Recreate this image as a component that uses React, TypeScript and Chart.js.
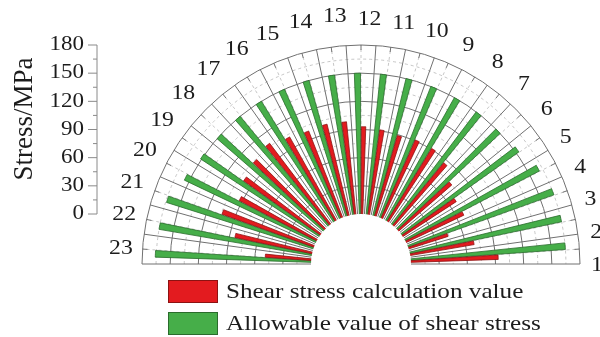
import React, { useEffect, useRef } from 'react';
import { Chart, registerables } from 'chart.js';

Chart.register(...registerables);

// ---------------- data ----------------
const CATEGORIES = ['1', '2', '3', '4', '5', '6', '7', '8', '9', '10', '11', '12', '13', '14', '15', '16', '17', '18', '19', '20', '21', '22', '23'];
const CALCULATED = [93, 69, 44, 68, 68, 75, 86, 91, 91, 89, 91, 93, 99, 100, 99, 102, 108, 104, 100, 93, 104, 84, 49];
const ALLOWABLE = [165, 165, 165, 161, 153, 150, 150, 150, 150, 150, 150, 150, 150, 150, 150, 150, 150, 150, 151, 155, 164, 165, 166];
const RADIAL_TICKS = [0, 30, 60, 90, 120, 150, 180];
const SERIES_NAMES = ['Shear stress calculation value', 'Allowable value of shear stress'];
const AXIS_TITLE = 'Stress/MPa';

// ---------------- style ----------------
const RED = '#e31b1f';
const RED_EDGE = '#8c1212';
const GREEN = '#46ae49';
const GREEN_EDGE = '#2a6c2c';
const NONE = 'rgba(0,0,0,0)';
const R_MAX = RADIAL_TICKS[RADIAL_TICKS.length - 1];
const OUTER_PX = 219;
const HOLE_PX = 50;
const R_MIN = -(R_MAX * HOLE_PX) / (OUTER_PX - HOLE_PX);
const SERIF = '"Liberation Serif", "Times New Roman", serif';
const TEXT = '#1c1c1c';

function stretchedText(
  ctx: CanvasRenderingContext2D,
  text: string,
  x: number,
  y: number,
  size: number,
  sx: number,
  align: CanvasTextAlign,
  rotate = 0
) {
  ctx.save();
  ctx.font = `${size}px ${SERIF}`;
  ctx.fillStyle = TEXT;
  ctx.textBaseline = 'middle';
  ctx.textAlign = align;
  ctx.translate(x, y);
  if (rotate) ctx.rotate(rotate);
  ctx.scale(sx, 1);
  ctx.fillText(text, 0, 0);
  ctx.restore();
}

export default function App() {
  const ref = useRef<HTMLCanvasElement>(null);

  useEffect(() => {
    if (!ref.current) return;
    const n = CATEGORIES.length;
    const slot = 180 / n;
    const barW = 1.85;
    const innerGap = 0.3;
    const outerGap = (slot - 2 * barW - innerGap) / 2;

    const values: number[] = [];
    const angles: number[] = [];
    const fills: string[] = [];
    const edges: string[] = [];
    const add = (v: number, a: number, f: string, e: string) => {
      values.push(v);
      angles.push(a);
      fills.push(f);
      edges.push(e);
    };
    // polar area runs clockwise on screen from the left: category 23 first
    for (let i = n - 1; i >= 0; i--) {
      add(0, outerGap, NONE, NONE);
      add(ALLOWABLE[i], barW, GREEN, GREEN_EDGE);
      add(0, innerGap, NONE, NONE);
      add(CALCULATED[i], barW, RED, RED_EDGE);
      add(0, outerGap, NONE, NONE);
    }
    add(0, 180, NONE, NONE); // lower (unused) half

    const deg = Math.PI / 180;

    const decor = {
      id: 'semiPolarDecor',
      beforeDatasetsDraw(chart: any) {
        const s = chart.scales.r;
        const ctx: CanvasRenderingContext2D = chart.ctx;
        const cx = s.xCenter;
        const cy = s.yCenter;
        const r0 = s.getDistanceFromCenterForValue(0);
        const r1 = s.getDistanceFromCenterForValue(R_MAX);
        ctx.save();
        // minor dashed rings
        ctx.strokeStyle = '#b8b8b8';
        ctx.lineWidth = 0.8;
        ctx.setLineDash([3, 3]);
        for (let i = 0; i < RADIAL_TICKS.length - 1; i++) {
          const r = s.getDistanceFromCenterForValue((RADIAL_TICKS[i] + RADIAL_TICKS[i + 1]) / 2);
          ctx.beginPath();
          ctx.arc(cx, cy, r, Math.PI, 2 * Math.PI);
          ctx.stroke();
        }
        // minor dashed spokes at slot centres
        for (let k = 0; k < n; k++) {
          const a = (k + 0.5) * slot * deg;
          ctx.beginPath();
          ctx.moveTo(cx + r0 * Math.cos(a), cy - r0 * Math.sin(a));
          ctx.lineTo(cx + r1 * Math.cos(a), cy - r1 * Math.sin(a));
          ctx.stroke();
        }
        ctx.setLineDash([]);
        // solid rings
        ctx.strokeStyle = '#707070';
        ctx.lineWidth = 1;
        RADIAL_TICKS.forEach((t) => {
          if (t === 0) return;
          const r = s.getDistanceFromCenterForValue(t);
          ctx.beginPath();
          ctx.arc(cx, cy, r, Math.PI, 2 * Math.PI);
          ctx.stroke();
        });
        // solid spokes at slot boundaries
        for (let k = 0; k <= n; k++) {
          const a = k * slot * deg;
          ctx.beginPath();
          ctx.moveTo(cx + r0 * Math.cos(a), cy - r0 * Math.sin(a));
          ctx.lineTo(cx + r1 * Math.cos(a), cy - r1 * Math.sin(a));
          ctx.stroke();
        }
        // small ticks on outer ring
        for (let k = 0; k < n; k++) {
          const a = (k + 0.5) * slot * deg;
          ctx.beginPath();
          ctx.moveTo(cx + (r1 - 5) * Math.cos(a), cy - (r1 - 5) * Math.sin(a));
          ctx.lineTo(cx + r1 * Math.cos(a), cy - r1 * Math.sin(a));
          ctx.stroke();
        }
        ctx.restore();
      },
      afterDatasetsDraw(chart: any) {
        const s = chart.scales.r;
        const ctx: CanvasRenderingContext2D = chart.ctx;
        const cx = s.xCenter;
        const cy = s.yCenter;
        const r0 = s.getDistanceFromCenterForValue(0);
        ctx.save();
        // the hole
        ctx.fillStyle = '#ffffff';
        ctx.beginPath();
        ctx.arc(cx, cy, r0, 0, 2 * Math.PI);
        ctx.fill();

        // left radial axis
        const axisX = 97;
        ctx.strokeStyle = '#8a8a8a';
        ctx.lineWidth = 1;
        ctx.beginPath();
        ctx.moveTo(axisX, cy - r0);
        ctx.lineTo(axisX, cy - s.getDistanceFromCenterForValue(R_MAX));
        ctx.stroke();
        for (let i = 0; i < RADIAL_TICKS.length; i++) {
          const t = RADIAL_TICKS[i];
          const y = cy - s.getDistanceFromCenterForValue(t);
          ctx.beginPath();
          ctx.moveTo(axisX - 9, y);
          ctx.lineTo(axisX, y);
          ctx.stroke();
          stretchedText(ctx, String(t), axisX - 13, y, 20, 1.15, 'right');
          if (i < RADIAL_TICKS.length - 1) {
            const ym = cy - s.getDistanceFromCenterForValue((t + RADIAL_TICKS[i + 1]) / 2);
            ctx.beginPath();
            ctx.moveTo(axisX - 4, ym);
            ctx.lineTo(axisX, ym);
            ctx.stroke();
          }
        }
        // axis title
        stretchedText(ctx, AXIS_TITLE, 25, 119, 27, 1, 'center', -Math.PI / 2);

        // category labels
        CATEGORIES.forEach((c, k) => {
          const a = k * 8 * deg;
          const R = 236 + 10 * Math.sin(a) + (Math.cos(a) < 0 ? 4 : 0);
          stretchedText(ctx, c, cx + R * Math.cos(a), cy - R * Math.sin(a) + 1, 22, 1.08, 'center');
        });

        // legend
        const lx = 168;
        const items = [
          { name: SERIES_NAMES[0], fill: RED, edge: RED_EDGE, y: 280 },
          { name: SERIES_NAMES[1], fill: GREEN, edge: GREEN_EDGE, y: 312 },
        ];
        items.forEach((it) => {
          ctx.fillStyle = it.fill;
          ctx.fillRect(lx, it.y, 50, 23);
          ctx.strokeStyle = it.edge;
          ctx.lineWidth = 1;
          ctx.strokeRect(lx + 0.5, it.y + 0.5, 49, 22);
          stretchedText(ctx, it.name, lx + 58, it.y + 12, 21, 1.2, 'left');
        });
        ctx.restore();
      },
    };

    const chart = new Chart(ref.current, {
      type: 'polarArea',
      data: {
        datasets: [
          {
            data: values,
            backgroundColor: fills,
            borderColor: edges,
            borderWidth: 0.8,
            angle: (c: any) => angles[c.dataIndex],
          } as any,
        ],
      },
      options: {
        responsive: false,
        animation: false,
        events: [],
        layout: { padding: { left: 142, right: 20, top: 45, bottom: 73 } },
        plugins: { legend: { display: false }, tooltip: { enabled: false } },
        scales: {
          r: {
            min: R_MIN,
            max: R_MAX,
            startAngle: 270,
            grid: { display: false },
            angleLines: { display: false },
            ticks: { display: false },
            pointLabels: { display: false },
            afterFit: (sc: any) => {
              sc.xCenter = (sc.left + sc.right) / 2;
              sc.yCenter = sc.bottom;
              sc.drawingArea = Math.min((sc.right - sc.left) / 2, sc.bottom - sc.top);
            },
          } as any,
        },
      } as any,
      plugins: [decor],
    });
    return () => chart.destroy();
  }, []);

  return (
    <div style={{ position: 'fixed', left: 0, top: 0, width: 600, height: 337, background: '#fff' }}>
      <canvas ref={ref} width={600} height={337} />
    </div>
  );
}
